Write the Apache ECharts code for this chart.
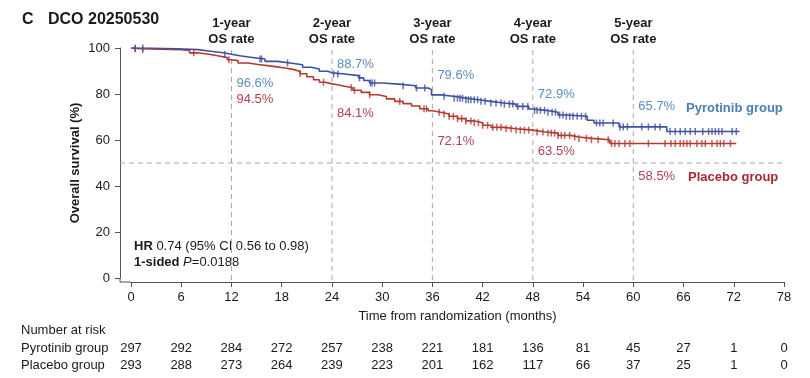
<!DOCTYPE html>
<html><head><meta charset="utf-8">
<script src="https://cdn.jsdelivr.net/npm/echarts@6/dist/echarts.min.js"></script>
<style>html,body{margin:0;padding:0;background:#fff}#c{width:810px;height:378px}</style>
</head><body><div id="c"></div>
<script>
// ---------- data ----------
const xTicks = [0,6,12,18,24,30,36,42,48,54,60,66,72,78];
const landmarkMonths = [12,24,36,48,60];
const landmarkLabels = ['1-year\nOS rate','2-year\nOS rate','3-year\nOS rate','4-year\nOS rate','5-year\nOS rate'];
const pyroRates = [96.6,88.7,79.6,72.9,65.7];
const placRates = [94.5,84.1,72.1,63.5,58.5];
const pyroAtRisk = [297,292,284,272,257,238,221,181,136,81,45,27,1,0];
const placAtRisk = [293,288,273,264,239,223,201,162,117,66,37,25,1,0];

const pyroTime = [0,2.0,5.5,8.0,9.5,11.0,12.0,13.0,14.5,16.0,17.5,19.0,20.5,21.5,22.5,23.5,24.0,25.5,27.2,27.8,28.5,30.0,32.0,34.0,35.5,35.9,37.0,38.5,40.0,41.5,43.0,44.5,46.0,47.5,48.0,49.5,51.0,52.0,54.5,55.3,58.3,64.0,72.7];
const pyroSurv = [100,99.7,99.3,98.6,97.9,97.3,96.6,95.9,95.2,94.2,93.5,92.7,91.6,90.9,89.9,89.2,88.7,88.0,87.0,85.9,84.8,84.3,83.6,82.6,81.9,79.6,79.0,78.2,77.5,76.8,76.1,75.6,74.6,73.5,72.9,72.1,70.9,70.3,68.6,67.4,65.7,63.7,63.7];
const placTime = [0,0.3,1.0,6.0,7.0,8.0,9.5,10.5,11.5,12.0,12.8,14.0,15.2,17.0,18.4,19.5,20.2,21.0,21.8,22.5,23.2,24.0,24.5,25.5,26.5,27.5,28.5,29.5,30.5,31.5,32.5,33.5,34.5,35.5,36.0,37.0,38.0,39.0,40.0,41.0,42.0,43.0,44.5,46.0,48.0,49.5,51.0,52.5,53.5,55.0,57.2,72.3];
const placSurv = [100,99.7,99.3,98.9,97.9,97.2,96.5,95.8,94.9,94.5,93.5,92.8,92.0,91.3,90.6,89.8,88.8,87.5,86.2,85.1,84.4,84.1,83.4,82.7,81.6,80.7,79.7,78.9,77.9,76.8,75.8,74.8,73.6,72.7,72.1,71.3,70.3,69.3,68.3,67.5,66.4,65.5,64.9,64.3,63.5,63.0,62.0,61.3,60.7,60.1,58.5,58.5];

const pyroCensor = [0.5,1.4,11.2,15.4,15.6,18.7,24.2,24.7,27.3,28.6,28.8,29.1,32.5,34.1,35.1,37.4,38.6,39.0,39.3,39.6,40.0,40.3,40.6,41.0,41.4,41.8,42.3,43.0,43.6,44.2,44.6,45.2,45.6,46.2,46.8,47.4,48.2,48.5,48.9,49.4,49.8,50.3,50.7,51.2,51.6,52.0,52.4,52.8,53.3,53.8,54.3,55.6,56.0,56.4,57.6,58.4,58.8,59.3,61.0,61.8,62.6,63.2,64.4,65.0,65.6,66.2,66.8,67.4,68.3,69.0,69.4,69.8,70.2,70.6,71.8,72.3];
const placCensor = [0.5,1.4,7.5,11.7,20.2,23.0,26.3,26.7,28.5,32.1,35.0,35.3,36.8,37.4,38.0,38.5,39.0,39.5,40.0,40.6,41.0,41.5,42.0,42.6,43.2,43.7,44.2,44.8,45.4,46.0,46.5,47.0,47.5,48.5,49.2,49.8,50.2,50.6,51.0,51.4,51.8,52.4,53.0,53.5,54.4,55.0,55.8,57.0,57.4,57.8,58.3,59.0,59.6,61.8,63.8,64.5,65.0,65.6,66.0,66.4,66.8,67.6,68.2,68.6,69.4,70.0,70.4,70.8,71.6];

// ---------- styles / layout ----------
const FONT = '"Liberation Sans", Arial, Helvetica, sans-serif';
const BLUE = '#3d50a2', RED = '#b33a30';
const BLUE_T = '#5a8ec0', RED_T = '#b3404f';
const BLUE_G = '#4a7fb4', RED_G = '#a5283b';
const TXT = '#1a1a1a', AX = '#555';
const pyroLabelY = [83, 64, 75, 94, 106];
const placLabelY = [99, 113, 141, 151, 176];

function survAt(times, surv, t) {
  let s = surv[0];
  for (let i = 0; i < times.length; i++) { if (times[i] <= t) s = surv[i]; else break; }
  return s;
}

const chart = echarts.init(document.getElementById('c'), null, {renderer: 'canvas'});
chart.setOption({
  animation: false,
  textStyle: {fontFamily: FONT},
  grid: {left: 131, right: 26, top: 48, bottom: 100, containLabel: false},
  xAxis: {
    type: 'value', min: 0, max: 78, interval: 6, offset: 4,
    axisLine: {onZero: false, lineStyle: {color: AX, width: 1}},
    axisTick: {length: 5, lineStyle: {color: AX}},
    axisLabel: {fontSize: 13, color: TXT, margin: 9, fontFamily: FONT},
    splitLine: {show: false},
    name: 'Time from randomization (months)', nameLocation: 'middle', nameGap: 28,
    nameTextStyle: {fontSize: 13, color: TXT, fontFamily: FONT}
  },
  yAxis: {
    type: 'value', min: 0, max: 100, interval: 20, offset: 11,
    axisLine: {show: true, onZero: false, lineStyle: {color: AX, width: 1}},
    axisTick: {show: true, length: 5, lineStyle: {color: AX}},
    axisLabel: {fontSize: 13, color: TXT, margin: 10, fontFamily: FONT},
    splitLine: {show: false},
    name: 'Overall survival (%)', nameLocation: 'middle', nameGap: 38, nameMoveOverlap: false,
    nameTextStyle: {fontSize: 13, color: TXT, fontWeight: 'bold', fontFamily: FONT}
  },
  series: [
    {type: 'line', step: 'end', showSymbol: false, symbol: 'none',
     data: placTime.map((t, i) => [t, placSurv[i]]),
     lineStyle: {color: RED, width: 1.6}, itemStyle: {color: RED}, z: 3},
    {type: 'line', step: 'end', showSymbol: false, symbol: 'none',
     data: pyroTime.map((t, i) => [t, pyroSurv[i]]),
     lineStyle: {color: BLUE, width: 1.6}, itemStyle: {color: BLUE}, z: 3},
    {type: 'scatter', symbol: 'rect', symbolSize: [1.5, 7],
     data: placCensor.map(t => [t, survAt(placTime, placSurv, t)]),
     itemStyle: {color: RED}, z: 4},
    {type: 'scatter', symbol: 'rect', symbolSize: [1.5, 7],
     data: pyroCensor.map(t => [t, survAt(pyroTime, pyroSurv, t)]),
     itemStyle: {color: BLUE}, z: 4}
  ]
});

const px = t => chart.convertToPixel({xAxisIndex: 0}, t);
const py = v => chart.convertToPixel({yAxisIndex: 0}, v);
const g = [];
const dash = {stroke: '#a8a8a8', lineWidth: 1, lineDash: [5, 4]};
const axisX = px(0) - 11, axisY = py(0) + 4;

// axis corner joins
g.push({type: 'line', shape: {x1: axisX, y1: axisY, x2: px(0), y2: axisY}, style: {stroke: AX, lineWidth: 1}, silent: true});
g.push({type: 'line', shape: {x1: axisX, y1: py(0), x2: axisX, y2: axisY}, style: {stroke: AX, lineWidth: 1}, silent: true});
// median reference line
g.push({type: 'line', shape: {x1: axisX, y1: py(50), x2: px(78), y2: py(50)}, style: dash, silent: true, z: 1});

landmarkMonths.forEach((m, i) => {
  const x = px(m);
  g.push({type: 'line', shape: {x1: x, y1: 50, x2: x, y2: axisY}, style: dash, silent: true, z: 1});
  g.push({type: 'text', x: x, y: 15, style: {text: landmarkLabels[i], font: 'bold 13px ' + FONT, fill: TXT, align: 'center', verticalAlign: 'top', lineHeight: 16}});
  g.push({type: 'text', x: x + 5, y: pyroLabelY[i], style: {text: pyroRates[i].toFixed(1) + '%', font: '13px ' + FONT, fill: BLUE_T, verticalAlign: 'middle'}});
  g.push({type: 'text', x: x + 5, y: placLabelY[i], style: {text: placRates[i].toFixed(1) + '%', font: '13px ' + FONT, fill: RED_T, verticalAlign: 'middle'}});
});

g.push({type: 'text', x: 686, y: 108, style: {text: 'Pyrotinib group', font: 'bold 13px ' + FONT, fill: BLUE_G, verticalAlign: 'middle'}});
g.push({type: 'text', x: 688, y: 177, style: {text: 'Placebo group', font: 'bold 13px ' + FONT, fill: RED_G, verticalAlign: 'middle'}});

// title
g.push({type: 'text', x: 22, y: 20, style: {text: 'C', font: 'bold 16px ' + FONT, fill: TXT, verticalAlign: 'middle'}});
g.push({type: 'text', x: 48, y: 20, style: {text: 'DCO 20250530', font: 'bold 16px ' + FONT, fill: TXT, verticalAlign: 'middle'}});

// HR annotation
g.push({type: 'text', x: 134, y: 246, style: {text: '{b|HR} 0.74 (95% CI 0.56 to 0.98)', font: '13px ' + FONT, fill: TXT, verticalAlign: 'middle',
  rich: {b: {fontWeight: 'bold', fontSize: 13, fontFamily: FONT, fill: TXT}}}});
g.push({type: 'text', x: 134, y: 262, style: {text: '{b|1-sided} {i|P}=0.0188', font: '13px ' + FONT, fill: TXT, verticalAlign: 'middle',
  rich: {b: {fontWeight: 'bold', fontSize: 13, fontFamily: FONT, fill: TXT}, i: {fontStyle: 'italic', fontSize: 13, fontFamily: FONT, fill: TXT}}}});

// number at risk
g.push({type: 'text', x: 21, y: 330, style: {text: 'Number at risk', font: '13px ' + FONT, fill: TXT, verticalAlign: 'middle'}});
g.push({type: 'text', x: 21, y: 348, style: {text: 'Pyrotinib group', font: '13px ' + FONT, fill: TXT, verticalAlign: 'middle'}});
g.push({type: 'text', x: 21, y: 365, style: {text: 'Placebo group', font: '13px ' + FONT, fill: TXT, verticalAlign: 'middle'}});
xTicks.forEach((t, i) => {
  g.push({type: 'text', x: px(t), y: 348, style: {text: String(pyroAtRisk[i]), font: '13px ' + FONT, fill: TXT, align: 'center', verticalAlign: 'middle'}});
  g.push({type: 'text', x: px(t), y: 365, style: {text: String(placAtRisk[i]), font: '13px ' + FONT, fill: TXT, align: 'center', verticalAlign: 'middle'}});
});

chart.setOption({graphic: g});
</script></body></html>
